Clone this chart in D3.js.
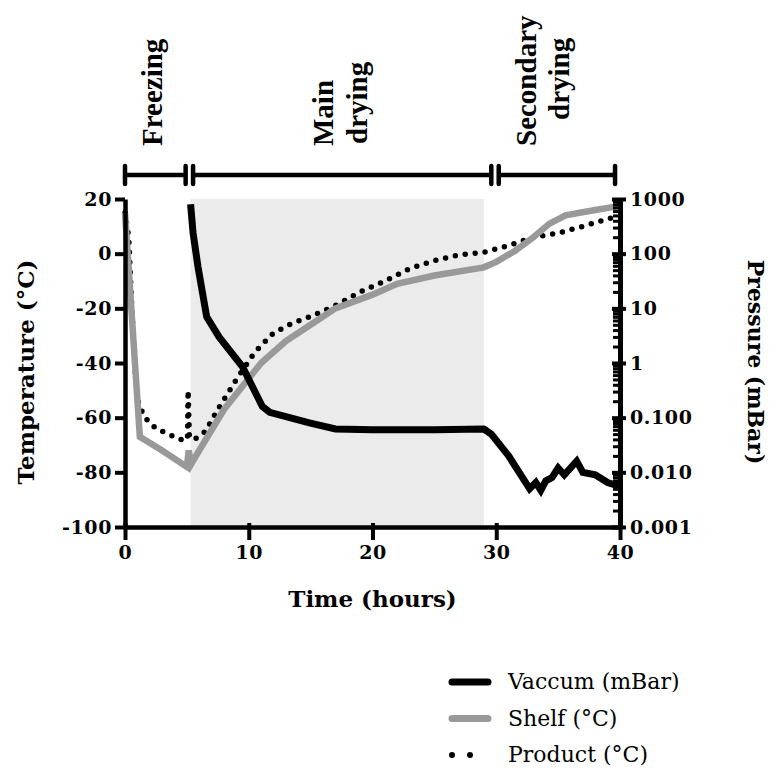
<!DOCTYPE html>
<html>
<head>
<meta charset="utf-8">
<script src="https://cdn.jsdelivr.net/npm/d3@7"></script>
<style>
  body { margin: 0; background: #fff; }
  .tick text { font-family: "DejaVu Serif", serif; font-weight: bold; font-size: 19px; letter-spacing: 0.6px; fill: #000; }
  .axis path, .axis line { stroke: #000; }
</style>
</head>
<body>
<script>
// shelf temperature (hours, °C)
const shelf = [
  [0, 15], [1.2, -67], [3, -72], [5, -78], [5.15, -72], [5.35, -77],
  [6, -72], [8, -57], [11, -40], [13, -32], [15, -26], [17, -20],
  [20, -15], [22, -11], [25, -8], [29, -5], [30, -3], [31.5, 1],
  [33, 6], [34.3, 11], [35.6, 14], [38, 16], [40, 17.5]
];
// product temperature (hours, °C)
const product = [
  [0, 15], [0.3, 6], [0.55, -20], [0.8, -42], [1.1, -55], [1.6, -60],
  [2.5, -64], [3.5, -66], [4.5, -68], [5.05, -68], [5.1, -50], [5.2, -67],
  [5.6, -68], [6.5, -65], [7.5, -57], [9, -46], [10.5, -36], [12, -29],
  [13.5, -25.5], [15, -23], [17, -19], [19, -14], [21, -10], [23, -5.5],
  [25, -2.5], [27, -0.5], [29, 0.5], [31, 3], [33, 6], [35, 7.5],
  [37, 10], [38.5, 12], [40, 14]
];
// chamber vacuum (hours, mBar)
const vacuum = [
  [5.3, 800], [5.5, 240], [5.9, 57], [6.6, 7], [7.6, 3], [9.5, 0.85],
  [11.1, 0.16], [11.7, 0.125], [14.9, 0.08], [17, 0.062], [20, 0.06],
  [25, 0.06], [29, 0.062], [29.6, 0.05], [31, 0.02], [32.7, 0.005],
  [33.2, 0.0065], [33.6, 0.0047], [34, 0.007], [34.5, 0.008], [35, 0.012],
  [35.5, 0.009], [36, 0.012], [36.5, 0.016], [37, 0.01], [38, 0.009],
  [39, 0.0065], [40, 0.0055]
];
const tempTicks = [-100, -80, -60, -40, -20, 0, 20];
const timeTicks = [0, 10, 20, 30, 40];
const pressTicks = [0.001, 0.01, 0.1, 1, 10, 100, 1000];
const pressLabels = ["0.001", "0.010", "0.100", "1", "10", "100", "1000"];
const mainDrying = [5.3, 29];
const phases = [
  { lines: ["Freezing"], from: 0, to: 4.9 },
  { lines: ["Main", "drying"], from: 5.5, to: 29.6 },
  { lines: ["Secondary", "drying"], from: 30.2, to: 39.6 }
];
const legendItems = ["Vaccum (mBar)", "Shelf (°C)", "Product (°C)"];

const width = 773, height = 771;
const plotL = 125, plotR = 620, plotT = 199, plotB = 527;

const svg = d3.select("body").append("svg")
  .attr("width", width)
  .attr("height", height);

const x = d3.scaleLinear().domain([0, 40]).range([plotL, plotR]);
const yT = d3.scaleLinear().domain([-100, 20]).range([plotB, plotT]);
const yP = d3.scaleLog().domain([0.001, 1000]).range([plotB, plotT]);

// main drying shading
svg.append("rect")
  .attr("x", x(mainDrying[0]))
  .attr("y", plotT)
  .attr("width", x(mainDrying[1]) - x(mainDrying[0]))
  .attr("height", plotB - plotT)
  .attr("fill", "#ebebeb");

// lines
const lineT = d3.line().x(d => x(d[0])).y(d => yT(d[1]));
const lineP = d3.line().x(d => x(d[0])).y(d => yP(d[1]));

svg.append("path").datum(product)
  .attr("d", lineT)
  .attr("fill", "none")
  .attr("stroke", "#000")
  .attr("stroke-width", 5.5)
  .attr("stroke-linecap", "round")
  .attr("stroke-dasharray", "0 10");

svg.append("path").datum(shelf)
  .attr("d", lineT)
  .attr("fill", "none")
  .attr("stroke", "#999")
  .attr("stroke-width", 6.5);

svg.append("path").datum(vacuum)
  .attr("d", lineP)
  .attr("fill", "none")
  .attr("stroke", "#000")
  .attr("stroke-width", 7);

// axes
const gl = svg.append("g").attr("class", "axis")
  .attr("transform", `translate(${plotL},0)`)
  .call(d3.axisLeft(yT).tickValues(tempTicks).tickSize(10).tickSizeOuter(0).tickPadding(3)
    .tickFormat(d => String(d)));
gl.select(".domain").attr("stroke-width", 4.5);
gl.selectAll(".tick line").attr("stroke-width", 4);

const gb = svg.append("g").attr("class", "axis")
  .attr("transform", `translate(0,${plotB})`)
  .call(d3.axisBottom(x).tickValues(timeTicks).tickSize(13).tickSizeOuter(0).tickPadding(6));
gb.select(".domain").attr("stroke-width", 4.5);
gb.selectAll(".tick line").attr("stroke-width", 4).attr("y1", -4);

// right log axis: minor ticks inward
const minor = [];
pressTicks.slice(0, -1).forEach(p => {
  for (let k = 2; k <= 9; k++) minor.push(p * k);
});
const gm = svg.append("g").attr("class", "axis")
  .attr("transform", `translate(${plotR},0)`)
  .call(d3.axisRight(yP).tickValues(minor).tickSize(-7).tickSizeOuter(0).tickFormat(""));
gm.select(".domain").remove();
gm.selectAll(".tick line").attr("stroke-width", 3);

const gr = svg.append("g").attr("class", "axis")
  .attr("transform", `translate(${plotR},0)`)
  .call(d3.axisRight(yP).tickValues(pressTicks).tickSize(6).tickSizeOuter(0).tickPadding(4)
    .tickFormat((d, i) => pressLabels[i]));
gr.select(".domain").attr("stroke-width", 5);
gr.selectAll(".tick line").attr("stroke-width", 4).attr("x1", -8);

// axis titles
svg.append("text")
  .attr("x", (plotL + plotR) / 2).attr("y", 607)
  .attr("text-anchor", "middle")
  .attr("font-family", "DejaVu Serif, serif").attr("font-weight", "bold")
  .attr("font-size", 23)
  .text("Time (hours)");

svg.append("text")
  .attr("transform", `translate(34,372) rotate(-90)`)
  .attr("text-anchor", "middle")
  .attr("font-family", "DejaVu Serif, serif").attr("font-weight", "bold")
  .attr("font-size", 23)
  .text("Temperature (°C)");

svg.append("text")
  .attr("transform", `translate(748,362) rotate(90)`)
  .attr("text-anchor", "middle")
  .attr("font-family", "DejaVu Serif, serif").attr("font-weight", "bold")
  .attr("font-size", 22)
  .text("Pressure (mBar)");

// phase brackets
const barY = 175;
const gp = svg.append("g").attr("stroke", "#000").attr("stroke-width", 4.5)
  .attr("stroke-linecap", "round");
phases.forEach(p => {
  gp.append("line").attr("x1", x(p.from)).attr("x2", x(p.to)).attr("y1", barY).attr("y2", barY)
    .attr("stroke-linecap", "butt");
  [p.from, p.to].forEach(t => {
    gp.append("line").attr("x1", x(t)).attr("x2", x(t)).attr("y1", barY - 9).attr("y2", barY + 9);
  });
});

// phase labels
const labelOffsets = [[{ dx: 7, y: 146 }], [{ dx: -9, y: 146 }, { dx: 25, y: 144 }], [{ dx: -21, y: 146 }, { dx: 12, y: 120 }]];
phases.forEach((p, i) => {
  const cx = (x(p.from) + x(p.to)) / 2;
  p.lines.forEach((ln, j) => {
    const o = labelOffsets[i][j];
    svg.append("text")
      .attr("transform", `translate(${cx + o.dx},${o.y}) rotate(-90)`)
      .attr("font-family", "Liberation Serif, serif").attr("font-weight", "bold")
      .attr("font-size", 29)
      .text(ln);
  });
});

// legend
const lg = svg.append("g");
legendItems.forEach((name, i) => {
  const ly = 682 + i * 36.5;
  const l = lg.append("line").attr("x1", 452).attr("x2", 488).attr("y1", ly).attr("y2", ly)
    .attr("stroke-linecap", "round");
  if (i === 0) l.attr("stroke", "#000").attr("stroke-width", 7);
  if (i === 1) l.attr("stroke", "#999").attr("stroke-width", 7);
  if (i === 2) l.attr("stroke", "#000").attr("stroke-width", 6).attr("stroke-dasharray", "0 18");
  lg.append("text")
    .attr("x", 508).attr("y", ly + 7)
    .attr("font-family", "DejaVu Serif, serif")
    .attr("font-size", 22)
    .text(name);
});
</script>
</body>
</html>
